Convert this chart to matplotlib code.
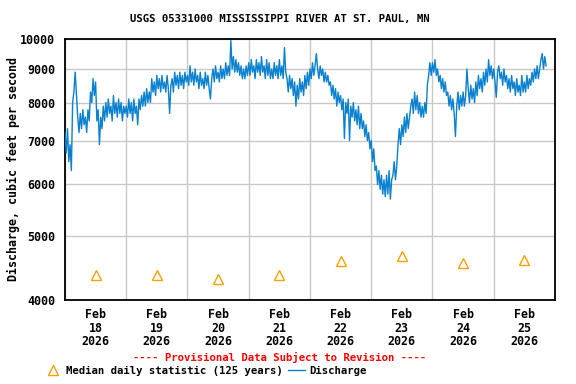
import numpy as np
import matplotlib.pyplot as plt
import matplotlib.dates as mdates
from matplotlib.lines import Line2D
from matplotlib.ticker import FixedLocator, FixedFormatter, NullLocator
from datetime import datetime, timedelta

# half-hourly discharge readings (cfs), one list per day
FEB18 = [7200, 6700, 7300, 6500, 6900, 6300, 8000, 8300, 8900, 8200, 7600, 7200,
         7700, 7300, 7800, 7400, 7600, 7200, 7800, 7500, 8300, 8000, 8700, 8200,
         8600, 7500, 7800, 6900, 7600, 7300, 7900, 7500, 8000, 7600, 8100, 7700,
         7900, 7500, 8200, 7700, 8000, 7600, 8100, 7700, 8000, 7500, 7900, 7700]
FEB19 = [7900, 7600, 8100, 7700, 8000, 7500, 8100, 7700, 7900, 7400, 8100, 7800,
         8200, 7900, 8300, 7900, 8400, 8000, 8300, 8000, 8700, 8300, 8600, 8200,
         8800, 8400, 8700, 8300, 8800, 8400, 8600, 8300, 8800, 8400, 7700, 8500,
         8700, 8300, 8900, 8500, 8800, 8400, 8900, 8500, 8800, 8400, 8900, 8600]
FEB20 = [8800, 8500, 9100, 8600, 8900, 8500, 9000, 8600, 8800, 8400, 8900, 8500,
         8700, 8400, 8900, 8500, 8800, 8400, 8100, 8700, 9000, 8600, 9100, 8700,
         8900, 8600, 9100, 8700, 9000, 8700, 9200, 8800, 9100, 8800, 9950, 9000,
         9400, 8900, 9300, 8900, 9200, 8800, 9100, 8700, 9000, 8700, 9100, 8800]
FEB21 = [9200, 8800, 9300, 8900, 9100, 8700, 9300, 8900, 9200, 8800, 9400, 8900,
         9100, 8700, 9300, 8800, 9200, 8700, 9000, 8700, 9200, 8800, 9100, 8700,
         9300, 8800, 9100, 8700, 9700, 8900, 8700, 8300, 8800, 8400, 8700, 8200,
         8600, 7900, 8500, 8100, 8700, 8300, 8600, 8200, 8800, 8400, 8900, 8500]
FEB22 = [9000, 8700, 9200, 8800, 9100, 9500, 9000, 8700, 9100, 8800, 9000, 8600,
         8900, 8600, 8800, 8500, 8600, 8200, 8500, 8100, 8400, 7900, 8300, 8000,
         8200, 7800, 8100, 7050, 8000, 7700, 8100, 7000, 7900, 7600, 8000, 7500,
         7800, 7400, 7900, 7300, 7700, 7300, 7500, 7100, 7400, 7000, 7200, 6800]
FEB23 = [7000, 6500, 6800, 6300, 6400, 6000, 6300, 5900, 6200, 5800, 6100, 5750,
         6200, 5800, 6300, 5700, 6100, 6200, 6500, 6100, 6400, 6900, 7300, 6900,
         7400, 7100, 7600, 7200, 7700, 7300, 7600, 7900, 8100, 7700, 8300, 7800,
         8200, 7700, 8000, 7600, 7900, 7600, 8000, 7700, 8500, 8800, 9200, 8800]
FEB24 = [9200, 8900, 9300, 8800, 9000, 8600, 8800, 8400, 8700, 8300, 8600, 8200,
         8300, 7900, 8200, 7800, 8100, 7700, 7100, 7900, 8300, 7800, 8200, 7900,
         8300, 7900, 8200, 9000, 8400, 8000, 8500, 8100, 8400, 8000, 8600, 8200,
         8800, 8400, 8700, 8300, 8900, 8500, 9000, 8600, 9300, 8800, 9100, 8700]
FEB25 = [9000, 8600, 8150, 8900, 9100, 8700, 8900, 8500, 9000, 8600, 8800, 8400,
         8700, 8300, 8800, 8400, 8600, 8200, 8700, 8300, 8500, 8200, 8800, 8300,
         8600, 8300, 8800, 8400, 8700, 8500, 8900, 8600, 9000, 8700, 9100, 8700,
         9000, 9300, 9500, 9000, 9400, 9100]

MEDIAN_DAYS = [18, 19, 20, 21, 22, 23, 24, 25]
MEDIAN_VALUES = [4360, 4370, 4300, 4360, 4580, 4660, 4560, 4610]

Y_TICKS = [4000, 5000, 6000, 7000, 8000, 9000, 10000]

TITLE = 'USGS 05331000 MISSISSIPPI RIVER AT ST. PAUL, MN'
BLUE = '#0a80d0'
ORANGE = '#ffa000'
MONO = 'DejaVu Sans Mono'


def main():
    flow = FEB18 + FEB19 + FEB20 + FEB21 + FEB22 + FEB23 + FEB24 + FEB25
    start = datetime(2026, 2, 18)
    times = [start + timedelta(minutes=30 * i) for i in range(len(flow))]
    median_times = [datetime(2026, 2, d, 12) for d in MEDIAN_DAYS]

    fig = plt.figure(figsize=(5.76, 3.84), dpi=100)
    ax = fig.add_axes([0.1128, 0.2188, 0.8507, 0.6797])

    ax.plot(times, flow, color=BLUE, linewidth=1.0, zorder=3)
    ax.plot(median_times, MEDIAN_VALUES, linestyle='none', marker='^',
            markersize=7.5, markerfacecolor='none', markeredgecolor=ORANGE,
            markeredgewidth=1.0, zorder=4)

    ax.set_yscale('log')
    ax.set_ylim(4000, 10000)
    ax.yaxis.set_major_locator(FixedLocator(Y_TICKS))
    ax.yaxis.set_major_formatter(FixedFormatter([str(v) for v in Y_TICKS]))
    ax.yaxis.set_minor_locator(NullLocator())

    ax.set_xlim(datetime(2026, 2, 18), datetime(2026, 2, 26))
    ax.xaxis.set_major_locator(mdates.DayLocator())
    ax.xaxis.set_major_formatter(plt.NullFormatter())
    ax.xaxis.set_minor_locator(mdates.HourLocator(byhour=[12]))
    ax.xaxis.set_minor_formatter(mdates.DateFormatter('%b\n%d\n%Y'))

    ax.grid(True, which='major', color='#c8c8c8', linewidth=1.0)
    ax.set_axisbelow(True)
    ax.tick_params(which='both', length=0)
    ax.tick_params(axis='x', which='minor', pad=6)
    ax.tick_params(axis='y', pad=7)
    for lab in ax.get_xticklabels(minor=True) + ax.get_yticklabels():
        lab.set_family(MONO)
        lab.set_fontweight('bold')
        lab.set_fontsize(8.4)
        lab.set_linespacing(1.05)
    for sp in ax.spines.values():
        sp.set_linewidth(1.3)

    ax.set_ylabel('Discharge, cubic feet per second', family=MONO,
                  fontweight='bold', fontsize=8.4, labelpad=0)
    fig.text(0.486, 0.951, TITLE, ha='center', va='center', family=MONO,
             fontweight='bold', fontsize=7.7)
    fig.text(0.486, 0.068, '---- Provisional Data Subject to Revision ----',
             ha='center', va='center', color='red', family=MONO,
             fontweight='bold', fontsize=7.7)

    handles = [
        Line2D([], [], linestyle='none', marker='^', markersize=7.5,
               markerfacecolor='none', markeredgecolor=ORANGE),
        Line2D([], [], color=BLUE, linewidth=1.0),
    ]
    fig.legend(handles, ['Median daily statistic (125 years)', 'Discharge'],
               loc='center', bbox_to_anchor=(0.357, 0.034), ncol=2,
               frameon=False, handlelength=1.6, handletextpad=0.4,
               columnspacing=0.5, borderaxespad=0,
               prop={'family': MONO, 'weight': 'bold', 'size': 7.7})

    fig.savefig('out.png', dpi=100)


if __name__ == '__main__':
    main()
